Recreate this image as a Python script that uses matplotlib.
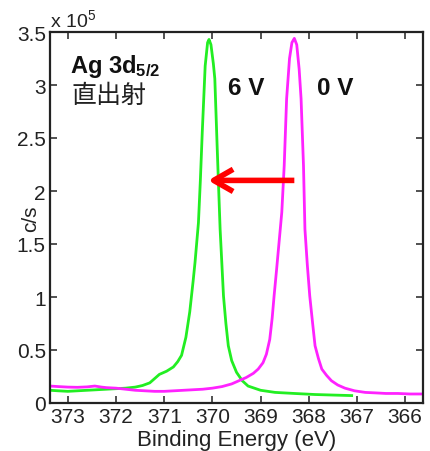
import matplotlib
matplotlib.use("Agg")
import matplotlib.pyplot as plt

plt.rcParams['font.family'] = ['Liberation Sans', 'Noto Sans CJK JP', 'DejaVu Sans']
plt.rcParams['mathtext.fontset'] = 'custom'
plt.rcParams['mathtext.rm'] = 'Liberation Sans'
plt.rcParams['mathtext.bf'] = 'Liberation Sans:bold'
plt.rcParams['mathtext.it'] = 'Liberation Sans:italic'

# ---- data (intensity in units of 1e5 c/s) ----
be_0v = [373.37, 373.2, 373.0, 372.8, 372.6, 372.44, 372.3, 372.2, 372.0, 371.8,
         371.6, 371.4, 371.2, 371.0, 370.8, 370.6, 370.4, 370.2, 370.0, 369.8,
         369.6, 369.45, 369.3, 369.15, 369.05, 368.95, 368.88, 368.81, 368.76,
         368.72, 368.67, 368.62, 368.56, 368.51, 368.46, 368.40, 368.35, 368.30,
         368.25, 368.20, 368.16, 368.11, 368.08, 368.03, 367.98, 367.92, 367.87,
         367.80, 367.73, 367.63, 367.53, 367.40, 367.25, 367.05, 366.83, 366.6,
         366.4, 366.15, 365.9, 365.63]
int_0v = [0.16, 0.155, 0.15, 0.148, 0.152, 0.16, 0.15, 0.145, 0.14, 0.13,
          0.12, 0.115, 0.11, 0.11, 0.115, 0.12, 0.125, 0.13, 0.14, 0.155,
          0.18, 0.21, 0.24, 0.28, 0.32, 0.38, 0.46, 0.60, 0.80,
          1.01, 1.25, 1.50, 1.80, 2.24, 2.87, 3.25, 3.40, 3.44,
          3.38, 3.15, 2.87, 2.24, 1.64, 1.30, 1.01, 0.75, 0.54,
          0.42, 0.32, 0.26, 0.21, 0.17, 0.14, 0.115, 0.10, 0.095,
          0.09, 0.09, 0.085, 0.085]

be_6v = [373.37, 373.2, 373.0, 372.8, 372.6, 372.4, 372.2, 372.0, 371.8, 371.6,
         371.45, 371.3, 371.2, 371.1, 370.95, 370.81, 370.72, 370.64, 370.55,
         370.47, 370.40, 370.36, 370.29, 370.25, 370.21, 370.15, 370.10, 370.07,
         370.03, 369.98, 369.95, 369.90, 369.84, 369.77, 369.72, 369.67, 369.60,
         369.50, 369.38, 369.26, 369.0, 368.70, 368.3, 367.87, 367.5, 367.11]
int_6v = [0.12, 0.115, 0.11, 0.115, 0.12, 0.125, 0.13, 0.135, 0.14, 0.15,
          0.165, 0.19, 0.23, 0.27, 0.30, 0.34, 0.39, 0.45, 0.62,
          0.86, 1.15, 1.33, 1.70, 2.10, 2.56, 3.18, 3.40, 3.43,
          3.38, 3.20, 3.06, 2.40, 1.64, 1.01, 0.75, 0.54, 0.40,
          0.29, 0.21, 0.16, 0.12, 0.10, 0.09, 0.08, 0.075, 0.07]

x_ticks = [373, 372, 371, 370, 369, 368, 367, 366]
y_ticks = [0, 0.5, 1, 1.5, 2, 2.5, 3, 3.5]
y_tick_labels = ['0', '0.5', '1', '1.5', '2', '2.5', '3', '3.5']

arrow_from = (368.30, 2.1)
arrow_to = (370.09, 2.1)

# ---- figure ----
W, H = 430, 452
fig = plt.figure(figsize=(W / 100, H / 100), dpi=100)
ax = fig.add_axes([50 / W, (H - 404) / H, 373 / W, 371 / H])

ax.plot(be_6v, int_6v, color='#22ee22', lw=2.0, solid_joinstyle='round')
ax.plot(be_0v, int_0v, color='#ff22ff', lw=2.0, solid_joinstyle='round')

ax.set_xlim(373.37, 365.63)
ax.set_ylim(0, 3.5)
ax.set_xticks(x_ticks)
ax.set_xticklabels([str(t) for t in x_ticks])
ax.set_yticks(y_ticks)
ax.set_yticklabels(y_tick_labels)

tick_color = '#222222'
ax.tick_params(axis='both', direction='in', length=5, width=1.2, labelsize=15,
               colors='#333333', labelcolor=tick_color, top=True, right=True, pad=3)
for s in ax.spines.values():
    s.set_linewidth(1.6)
    s.set_color('#222222')

ax.set_xlabel('Binding Energy (eV)', fontsize=16, color=tick_color, labelpad=2)
ax.set_ylabel('c/s', fontsize=15, color=tick_color)
ax.yaxis.set_label_coords(-0.026, 0.5)

ax.annotate('', xy=arrow_to, xytext=arrow_from,
            arrowprops=dict(arrowstyle='->,head_length=0.7,head_width=0.4',
                            color='#ff0000', lw=4, mutation_scale=20,
                            shrinkA=0, shrinkB=0, capstyle='butt'))

ax.text(0.054, 0.892, r'Ag 3d$_{\mathbf{5/2}}$', transform=ax.transAxes,
        fontsize=17, fontweight='bold', color='#111111', va='baseline', ha='left')
ax.text(0.057, 0.830, '直出射', transform=ax.transAxes, fontsize=18,
        color='#222222', va='center', ha='left',
        family=['Noto Sans CJK JP', 'DejaVu Sans'])
ax.text(0.476, 0.833, '6 V', transform=ax.transAxes, fontsize=17.5,
        fontweight='bold', color='#111111', va='baseline', ha='left')
ax.text(0.715, 0.833, '0 V', transform=ax.transAxes, fontsize=17.5,
        fontweight='bold', color='#111111', va='baseline', ha='left')

fig.text(50 / W, 1 - 27 / H, r'x 10$^{\mathrm{5}}$', fontsize=14,
         color=tick_color, va='baseline', ha='left')

fig.savefig('out.png', dpi=100)
